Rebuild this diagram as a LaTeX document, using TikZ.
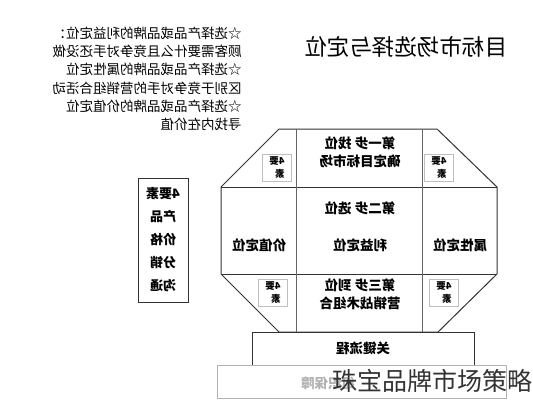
\documentclass[tikz,border=0pt]{standalone}
\usepackage{fontspec}
\newfontfamily\cjk{Noto Sans CJK SC}
\usetikzlibrary{positioning}
\tikzset{
  mirror/.style={xscale=-1},
  celltext/.style={mirror,align=center,font=\cjk\bfseries\fontsize{13.5}{18.5}\selectfont},
  smallbox/.style={draw=black!25,line width=0.6pt,minimum width=29pt,minimum height=27pt,
    align=left,inner sep=2pt,font=\cjk\bfseries\fontsize{9.5}{13}\selectfont},
  frame/.style={draw=black!80,line width=1pt},
}

\begin{document}
\begin{tikzpicture}[x=1pt,y=-1pt]
  \useasboundingbox (0,0) rectangle (533,400);
  % notes and title
  \node[mirror,align=left,font=\cjk\fontsize{13.5}{18.3}\selectfont] (notes) at (147,79)
    {☆选择产品或品牌的利益定位：\\顾客需要什么且竞争对手还没做\\☆选择产品或品牌的属性定位\\
     区别于竞争对手的营销组合活动\\☆选择产品或品牌的价值定位\\寻找内在价值};
  \node[mirror,font=\cjk\fontsize{22.5}{26}\selectfont] (title) at (406,47) {目标市场选择与定位};

  % octagon
  \coordinate (o1) at (279,129);
  \coordinate (o2) at (437,129);
  \coordinate (o3) at (497,187);
  \coordinate (o4) at (497,274);
  \coordinate (o5) at (438,332);
  \coordinate (o6) at (279,332);
  \coordinate (o7) at (221,274);
  \coordinate (o8) at (221,187);
  \draw[frame] (o1) -- (o2) -- (o3) -- (o4) -- (o5) -- (o6) -- (o7) -- (o8) -- cycle;
  \draw[frame] (o8) -- (o3);
  \draw[frame] (o7) -- (o4);
  \draw[frame,draw=black!60] (296,129) -- (296,332);
  \draw[frame,draw=black!60] (422,129) -- (422,332);

  \node[celltext] (step1) at (360,152) {第一步 找位\\确定目标市场};
  \node[celltext] (step2) at (360,208) {第二步 选位};
  \node[celltext] (benefit) at (360,245) {利益定位};
  \node[celltext] (value) at (259,245) {价值定位};
  \node[celltext] (attr) at (460,245) {属性定位};
  \node[celltext] (step3) at (360,294) {第三步 到位\\营销战术组合};

  \node[smallbox,mirror] (q1) at (277,168) {4要\\素};
  \node[smallbox,mirror] (q2) at (439,168) {4要\\素};
  \node[smallbox,mirror] (q3) at (273,293) {4要\\素};
  \node[smallbox,mirror] (q4) at (444,293) {4要\\素};

  % four elements
  \node[draw=black!80,line width=0.8pt,minimum width=50pt,minimum height=124pt,mirror,
        align=center,font=\cjk\bfseries\fontsize{13}{23}\selectfont] (four) at (163,240)
    {4要素\\产品\\价格\\分销\\沟通};

  % base boxes
  \node[frame,minimum width=222pt,minimum height=33pt,celltext] (key) at (363,348.5) {关键流程};
  \node[draw=black!30,line width=0.8pt,minimum width=289pt,minimum height=33pt] (org) at (361.5,381.5) {};
  \node[mirror,text=black!30,font=\cjk\bfseries\fontsize{13.5}{16}\selectfont] (orgtext) at (328,383) {组织保障};

  \node[font=\cjk\fontsize{25}{29}\selectfont,text=black!80] (mark) at (432,381) {珠宝品牌市场策略};
\end{tikzpicture}
\end{document}
